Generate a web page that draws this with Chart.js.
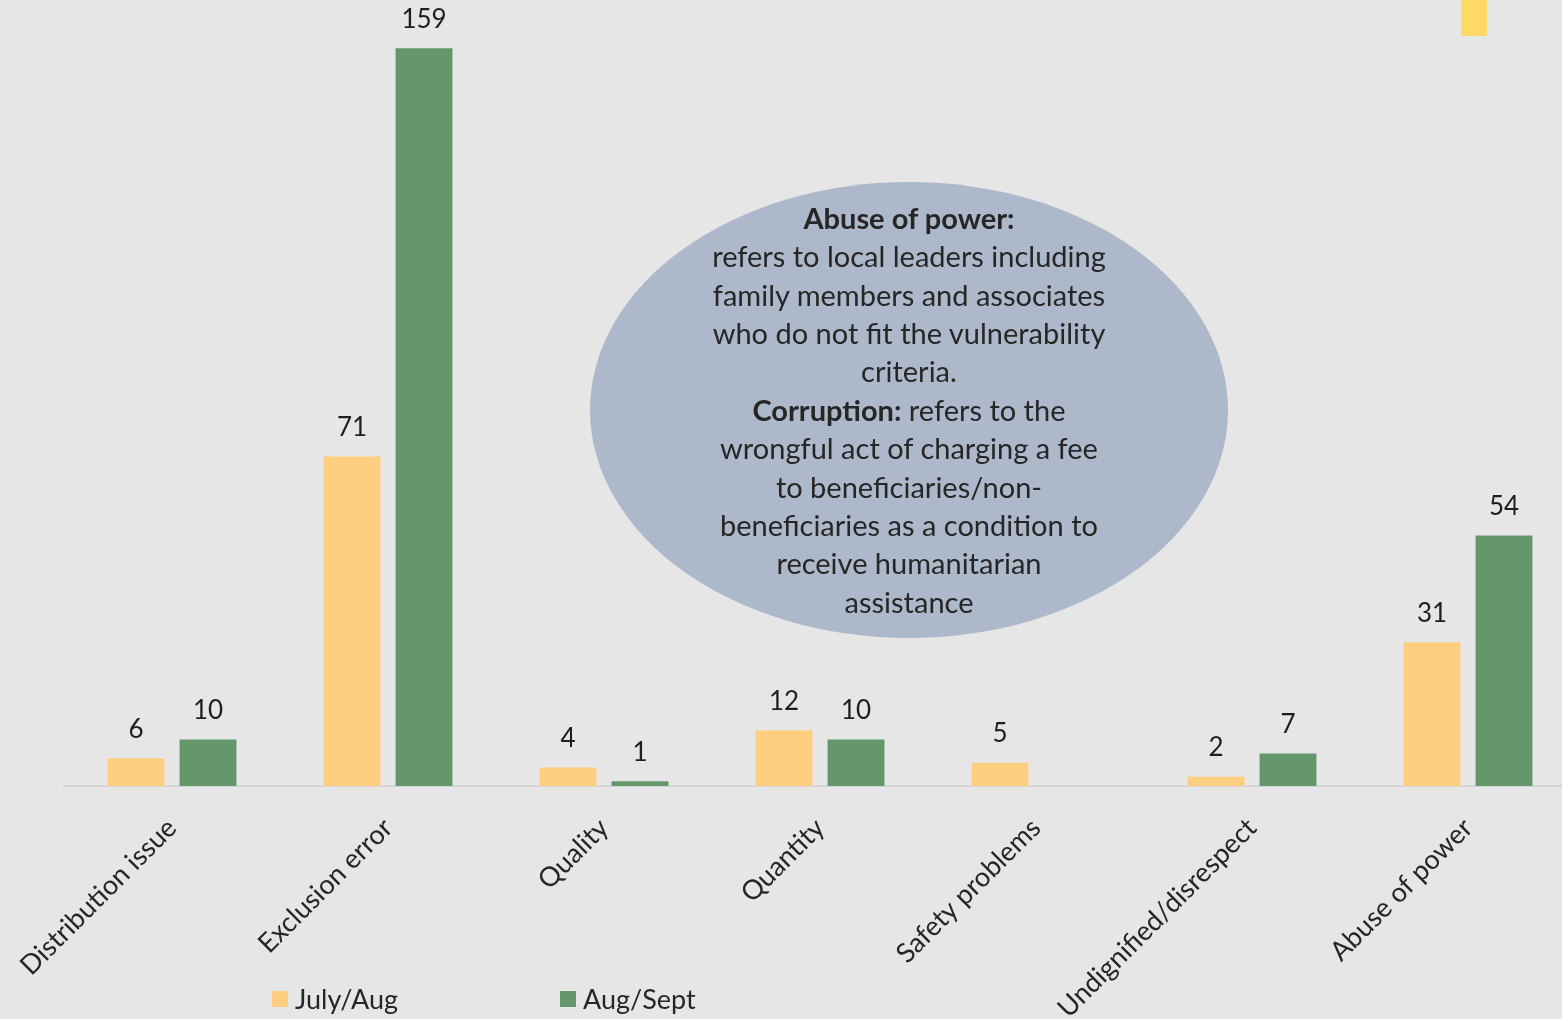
<!DOCTYPE html>
<html>
<head>
<meta charset="utf-8">
<script src="https://cdn.jsdelivr.net/npm/chart.js@4/dist/chart.umd.min.js"></script>
<style>
  html, body { margin: 0; padding: 0; background: #e6e6e6; overflow: hidden; }
  #wrap { position: relative; width: 1562px; height: 1019px; overflow: hidden; }
  #box { position: absolute; left: 0; top: 0; width: 1576px; height: 1019px; }
  #note {
    position: absolute; left: 590px; top: 182px; width: 638px; height: 456px;
    border-radius: 50%; background: #adb9ca;
    display: flex; flex-direction: column; align-items: center; justify-content: center;
    font-family: Lato, "Open Sans", sans-serif; font-size: 29px; line-height: 38.4px;
    color: #262626; text-align: center;
  }
  #note p { margin: 0; white-space: nowrap; }
  #legend { position: absolute; top: 982px; left: 0; font-family: Lato, sans-serif; font-size: 27px; color: #262626; }
  .lg { position: absolute; white-space: nowrap; display: flex; align-items: center; }
  .sw { width: 16px; height: 16px; margin-right: 7px; }
  #marker { position: absolute; left: 1461px; top: 0; width: 26px; height: 36px; background: #ffd966; }
</style>
</head>
<body>
<div id="wrap">
  <div id="box"><canvas id="c" width="1576" height="1019"></canvas></div>
  <div id="note">
    <p><b>Abuse of power:</b><br>refers to local leaders including<br>family members and associates<br>who do not fit the vulnerability<br>criteria.<br><b>Corruption:</b> refers to the<br>wrongful act of charging a fee<br>to beneficiaries/non-<br>beneficiaries as a condition to<br>receive humanitarian<br>assistance</p>
  </div>
  <div id="marker"></div>
  <div id="legend"></div>
</div>
<script>
// Complaint categories and counts per reporting period
const categories = ["Distribution issue", "Exclusion error", "Quality", "Quantity", "Safety problems", "Undignified/disrespect", "Abuse of power"];
const seriesNames = ["July/Aug", "Aug/Sept"];
const julyAug = [6, 71, 4, 12, 5, 2, 31];
const augSept = [10, 159, 1, 10, null, 7, 54];
const colors = ["#fecf80", "#64976b"];

// Value labels drawn just above each bar
const valueLabels = {
  id: 'valueLabels',
  afterDatasetsDraw(chart) {
    const ctx = chart.ctx;
    ctx.save();
    ctx.font = '26px Lato, sans-serif';
    ctx.fillStyle = '#1e1e1e';
    ctx.textAlign = 'center';
    ctx.textBaseline = 'middle';
    chart.data.datasets.forEach((ds, i) => {
      chart.getDatasetMeta(i).data.forEach((bar, j) => {
        const v = ds.data[j];
        if (v === null || v === undefined) return;
        ctx.fillText(String(v), bar.x, bar.y - 29);
      });
    });
    ctx.restore();
  }
};

new Chart(document.getElementById('c'), {
  type: 'bar',
  data: {
    labels: categories,
    datasets: [
      { label: seriesNames[0], data: julyAug, backgroundColor: colors[0] },
      { label: seriesNames[1], data: augSept, backgroundColor: colors[1] }
    ]
  },
  options: {
    responsive: false,
    animation: false,
    layout: { padding: { left: 64, right: 0, top: 0, bottom: 0 } },
    datasets: { bar: { categoryPercentage: 0.667, barPercentage: 0.79 } },
    plugins: { legend: { display: false }, tooltip: { enabled: false } },
    scales: {
      y: { display: false, min: 0, max: 169.4 },
      x: {
        grid: { display: false },
        border: { display: true, color: '#d4d4d4', width: 2 },
        ticks: {
          color: '#262626',
          font: { family: 'Lato, sans-serif', size: 27 },
          minRotation: 45, maxRotation: 45, padding: 18, autoSkip: false
        },
        afterFit(scale) { scale.height = 233; }
      }
    }
  },
  plugins: [valueLabels]
});

// Legend under the axis labels
const legendPos = [272, 560];
const legend = document.getElementById('legend');
seriesNames.forEach((name, i) => {
  const item = document.createElement('div');
  item.className = 'lg';
  item.style.left = legendPos[i] + 'px';
  item.innerHTML = '<span class="sw" style="background:' + colors[i] + '"></span><span>' + name + '</span>';
  legend.appendChild(item);
});
</script>
</body>
</html>
